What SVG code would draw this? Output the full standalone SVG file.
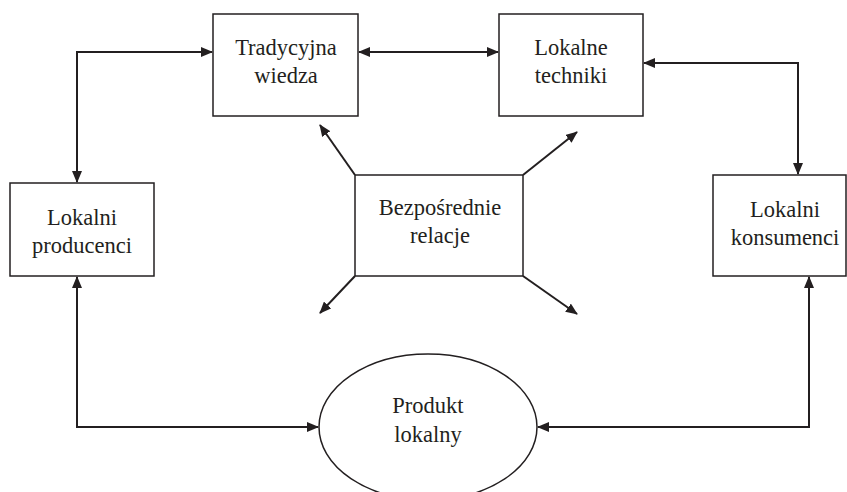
<svg xmlns="http://www.w3.org/2000/svg" width="847" height="492" viewBox="0 0 847 492">
  <style>
    .box { fill: #ffffff; stroke: #231f20; stroke-width: 1.5; }
    .lbl { font-family: "Liberation Serif", "Times New Roman", serif; font-size: 22.5px; fill: #231f20; text-anchor: middle; }
    .con { fill: none; stroke: #231f20; stroke-width: 2; }
    .arr { marker-end: url(#ah); }
    .both { marker-start: url(#ah); marker-end: url(#ah); }
  </style>
  <defs>
    <marker id="ah" markerUnits="userSpaceOnUse" markerWidth="12" markerHeight="10" refX="11" refY="5" orient="auto-start-reverse" viewBox="0 0 12 10">
      <path d="M0,0 L12,5 L0,10 Z" fill="#231f20"/>
    </marker>
  </defs>
  <rect width="847" height="492" fill="#ffffff"/>

  <g id="connectors">
    <path class="con both" d="M359,52 H498"/>
    <path class="con both" d="M212,52 H77 V182"/>
    <path class="con both" d="M644,63 H798 V174"/>
    <path class="con both" d="M77,277 V427 H318"/>
    <path class="con both" d="M809,277 V427 H538"/>
    <path class="con arr" d="M355,175 L320,125"/>
    <path class="con arr" d="M523,175 L577,132"/>
    <path class="con arr" d="M355,276 L320,313"/>
    <path class="con arr" d="M523,276 L577,314"/>
  </g>

  <g id="tradycyjna-wiedza">
    <rect class="box" x="213" y="14" width="145" height="102"/>
    <text class="lbl" x="286" y="55">Tradycyjna</text>
    <text class="lbl" x="286" y="83">wiedza</text>
  </g>

  <g id="lokalne-techniki">
    <rect class="box" x="499" y="14" width="144" height="102"/>
    <text class="lbl" x="571" y="55">Lokalne</text>
    <text class="lbl" x="571" y="83">techniki</text>
  </g>

  <g id="lokalni-producenci">
    <rect class="box" x="10" y="183" width="144" height="93"/>
    <text class="lbl" x="82" y="225">Lokalni</text>
    <text class="lbl" x="82" y="253">producenci</text>
  </g>

  <g id="bezposrednie-relacje">
    <rect class="box" x="355" y="175" width="168" height="101"/>
    <text class="lbl" x="440" y="215">Bezpośrednie</text>
    <text class="lbl" x="440" y="243">relacje</text>
  </g>

  <g id="lokalni-konsumenci">
    <rect class="box" x="713" y="175" width="133" height="101"/>
    <text class="lbl" x="785" y="217">Lokalni</text>
    <text class="lbl" x="785" y="245">konsumenci</text>
  </g>

  <g id="produkt-lokalny">
    <ellipse class="box" cx="428" cy="427" rx="109" ry="73"/>
    <text class="lbl" x="428" y="413">Produkt</text>
    <text class="lbl" x="428" y="442">lokalny</text>
  </g>
</svg>
